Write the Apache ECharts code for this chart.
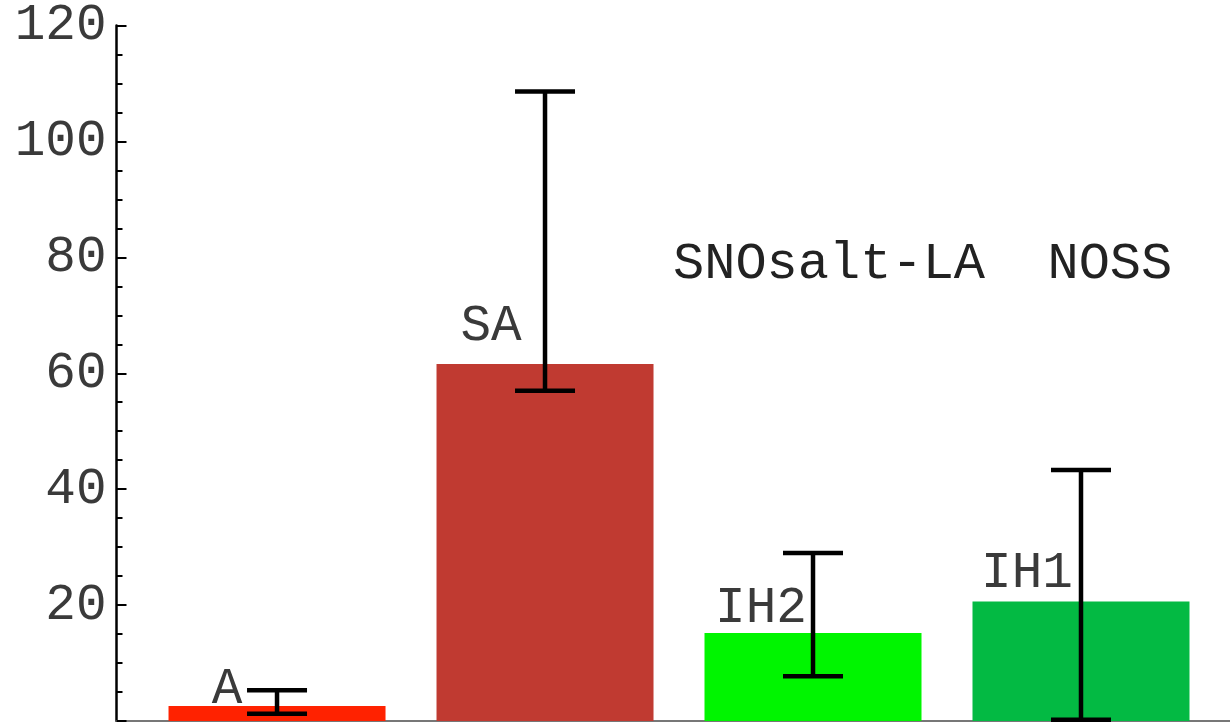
<!DOCTYPE html>
<html>
<head>
<meta charset="utf-8">
<script src="https://cdn.jsdelivr.net/npm/echarts@6/dist/echarts.min.js"></script>
<style>html,body{margin:0;padding:0;background:#fff;}#chart{width:1230px;height:722px;}</style>
</head>
<body>
<div id="chart"></div>
<script>
const categories = ['A', 'SA', 'IH2', 'IH1'];
const values = [2.6, 61.6, 15.2, 20.6];
const errLow = [1.25, 57.0, 7.7, 0.2];
const errHigh = [5.3, 108.6, 29.0, 43.3];
const barColors = ['#ff2200', '#c03a31', '#00f500', '#03ba43'];
const annotation = 'SNOsalt-LA  NOSS';

const FONT = '"Liberation Mono", "DejaVu Sans Mono", monospace';
const labelOffsets = [[-50, 14], [-54, -7], [-52, 6], [-54, 2]];

const chart = echarts.init(document.getElementById('chart'), null, {renderer: 'canvas'});
const barData = values.map((v, i) => ({
  value: [i + 1, v],
  itemStyle: {color: barColors[i]},
  label: {
    show: true, position: 'top', formatter: categories[i],
    offset: labelOffsets[i], fontFamily: FONT, fontSize: 51, color: '#3a3a3a'
  }
}));
const errData = categories.map((c, i) => [i + 1, errLow[i], errHigh[i]]);

chart.setOption({
  animation: false,
  backgroundColor: '#fff',
  title: {
    text: annotation, left: 668, top: 233,
    textStyle: {fontFamily: FONT, fontSize: 52, fontWeight: 'normal', color: '#222'}
  },
  grid: {left: 116.5, right: 0, top: 25, bottom: 1},
  xAxis: {
    type: 'value', min: 0.401, max: 4.556,
    axisLine: {show: true, onZero: false, lineStyle: {color: '#777', width: 2}},
    axisTick: {show: false}, axisLabel: {show: false}, splitLine: {show: false}
  },
  yAxis: {
    type: 'value', min: 0, max: 120, interval: 20,
    axisLine: {show: true, lineStyle: {color: '#000', width: 2.5}},
    axisTick: {show: true, inside: true, length: 10, lineStyle: {color: '#000', width: 2}},
    minorTick: {show: true, splitNumber: 4, length: 6, lineStyle: {color: '#000', width: 2}},
    axisLabel: {
      margin: 10, fontFamily: FONT, fontSize: 51, color: '#3a3a3a',
      formatter: v => v === 0 ? '' : String(v)
    },
    splitLine: {show: false}
  },
  series: [
    {
      type: 'bar', data: barData, barWidth: 217, z: 2
    },
    {
      type: 'custom', z: 5, data: errData,
      renderItem: function (params, api) {
        const x = api.value(0);
        const lo = api.coord([x, api.value(1)]);
        const hi = api.coord([x, api.value(2)]);
        const hw = 30;
        const st = {stroke: '#000', lineWidth: 4.5};
        return {
          type: 'group',
          children: [
            {type: 'line', shape: {x1: lo[0], y1: lo[1], x2: hi[0], y2: hi[1]}, style: st},
            {type: 'line', shape: {x1: lo[0] - hw, y1: lo[1], x2: lo[0] + hw, y2: lo[1]}, style: st},
            {type: 'line', shape: {x1: hi[0] - hw, y1: hi[1], x2: hi[0] + hw, y2: hi[1]}, style: st}
          ]
        };
      }
    }
  ]
});
</script>
</body>
</html>
